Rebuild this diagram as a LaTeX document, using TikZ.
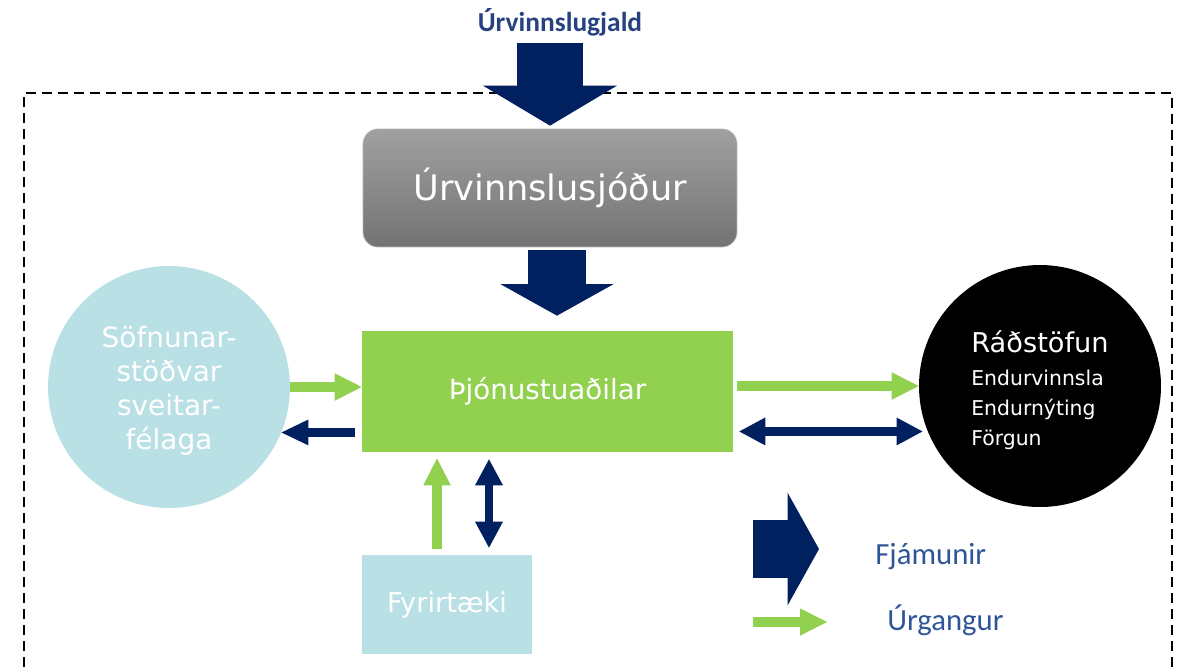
\documentclass[tikz,border=0pt]{standalone}
\usepackage{fontspec}
\setmainfont{DejaVu Sans}
\newfontfamily\legendfont{Carlito}
\usetikzlibrary{arrows.meta}
\definecolor{navy}{RGB}{0,32,96}
\definecolor{leaf}{RGB}{146,208,80}
\definecolor{pale}{RGB}{185,224,228}
\definecolor{feeblue}{RGB}{38,66,128}
\definecolor{inkblue}{RGB}{47,85,151}
\definecolor{fundtop}{RGB}{160,160,160}
\definecolor{fundbot}{RGB}{115,115,115}

\begin{document}
\begin{tikzpicture}[x=0.02cm,y=-0.02cm,
  box/.style={rectangle, inner sep=0pt, text=white},
  blob/.style={circle, inner sep=0pt, minimum size=4.84cm, text=white, align=center},
  bigarr/.style={navy, line width=1.17cm, -{Triangle[length=0.63cm,width=2.26cm,line width=0pt]}},
  waste/.style={leaf, line width=0.2cm, -{Triangle[length=0.54cm,width=0.55cm,line width=0pt]}},
  moneyback/.style={navy, line width=0.17cm, -{Triangle[length=0.54cm,width=0.52cm,line width=0pt]}},
  money/.style={navy, line width=0.18cm, {Triangle[length=0.52cm,width=0.56cm,line width=0pt]}-{Triangle[length=0.52cm,width=0.56cm,line width=0pt]}},
  legend/.style={font=\legendfont\fontsize{17.5}{20}\selectfont, text=inkblue, anchor=west, inner sep=0pt}]
\useasboundingbox (0,0) rectangle (1179,667);

% frame
\draw[line width=1.5pt, dash pattern=on 5.7pt off 3.4pt] (24,667) -- (24,93) -- (1172,93) -- (1172,667);

% nodes
\node[font=\legendfont\bfseries\fontsize{15.6}{18}\selectfont, text=feeblue] (fee) at (560,22) {Úrvinnslugjald};
\node[box, minimum width=7.48cm, minimum height=2.36cm, rounded corners=0.3cm, top color=fundtop, bottom color=fundbot, draw=gray!60, font=\fontsize{20}{24}\selectfont] (fund) at (550,188) {Úrvinnslusjóður};
\node[box, fill=leaf, minimum width=7.42cm, minimum height=2.42cm, font=\fontsize{15.8}{19}\selectfont] (svc) at (547.5,391.5) {Þjónustuaðilar};
\node[blob, fill=pale, font=\fontsize{15.9}{19.3}\selectfont] (coll) at (169,387) {\rule{0pt}{16.5pt}Söfnunar-\\stöðvar\\sveitar-\\félaga};
\node[blob, fill=black, align=left, font=\fontsize{11.6}{17}\selectfont] (disp) at (1040,386) {{\fontsize{15.5}{18}\selectfont\rule{0pt}{17.5pt}Ráðstöfun}\\[1.8pt]Endurvinnsla\\Endurnýting\\Förgun};
\node[box, fill=pale, minimum width=3.4cm, minimum height=1.98cm, font=\fontsize{15.5}{19}\selectfont] (firm) at (447,604.5) {Fyrirtæki};

% money flow
\coordinate (feed) at (550,43);
\draw[bigarr, line width=1.32cm, -{Triangle[length=0.8cm,width=2.68cm,line width=0pt]}, shorten >=0.06cm] (feed) -- (fund.north);
\draw[bigarr, shorten <=0.06cm, shorten >=0.3cm] ([xshift=0.14cm]fund.south) -- ([xshift=0.14cm]fund.south |- svc.north);

% side arrows
\draw[waste] (coll.east) -- (coll.east -| svc.west);
\draw[moneyback, shorten <=0.14cm] (svc.west |- coll.-22) -- (coll.-22);
\draw[waste, shorten <=0.08cm] (svc.east |- disp.west) -- (disp.west);
\draw[money, shorten <=0.12cm, shorten >=0.1cm] (svc.east |- disp.202) -- (disp.202);
\draw[waste, shorten <=0.12cm, shorten >=0.12cm] ([xshift=-0.2cm]firm.north) -- ([xshift=-0.2cm]firm.north |- svc.south);
\draw[money, shorten <=0.14cm, shorten >=0.14cm] ([xshift=0.84cm]firm.north) -- ([xshift=0.84cm]firm.north |- svc.south);

% legend
\coordinate (fjA) at (753,549);
\coordinate (fjB) at (819,549);
\draw[bigarr] (fjA) -- (fjB);
\node[legend] (fjlabel) at (875,557) {Fjámunir};
\coordinate (urA) at (753,622);
\coordinate (urB) at (827,622);
\draw[waste] (urA) -- (urB);
\node[legend] (urlabel) at (887,620) {Úrgangur};
\end{tikzpicture}
\end{document}
